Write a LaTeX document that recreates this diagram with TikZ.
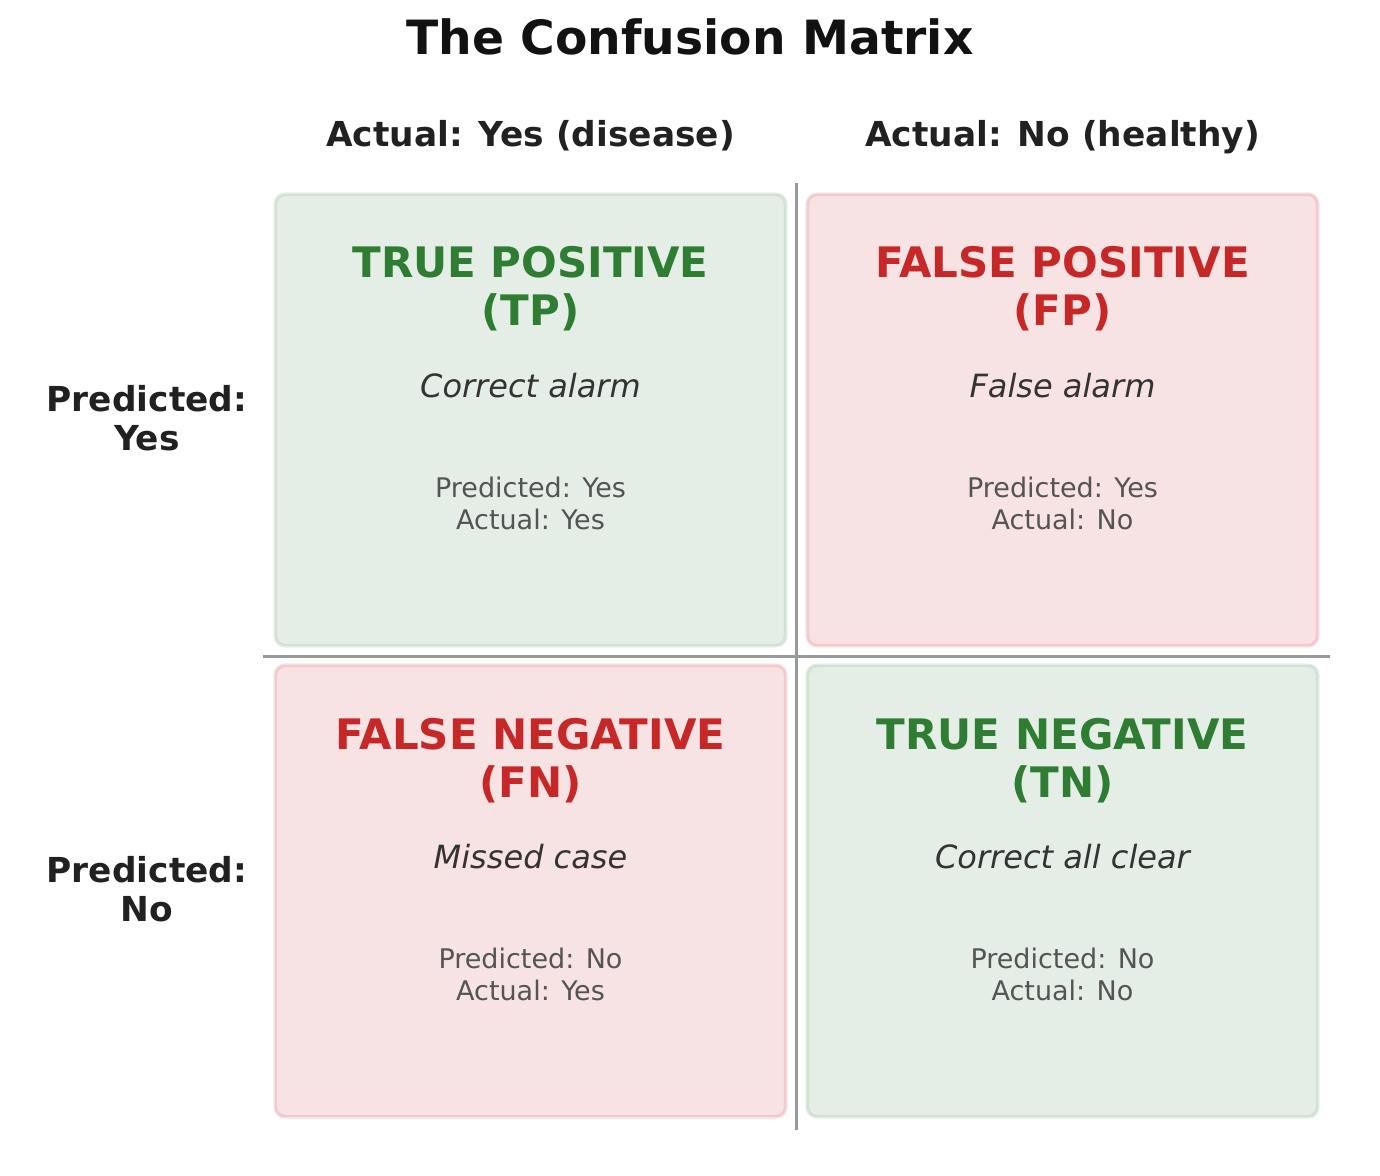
\documentclass[tikz,border=0pt]{standalone}
\usepackage{fontspec}
\setmainfont{DejaVu Sans}
\usepackage{tikz}
\definecolor{goodfill}{HTML}{E5EEE6}
\definecolor{goodline}{HTML}{D0E2D2}
\definecolor{goodtext}{HTML}{2E7D32}
\definecolor{badfill}{HTML}{F8E3E4}
\definecolor{badline}{HTML}{F2CACD}
\definecolor{badtext}{HTML}{C62828}
\definecolor{gridgray}{HTML}{999999}

\begin{document}
\begin{tikzpicture}[x=0.5pt,y=-0.5pt,
  cell/.style n args={2}{draw=#2,fill=#1,line width=1.2pt,rounded corners=4.5pt,
    minimum width=254.5pt,minimum height=225pt,rectangle,
    preaction={draw=#2!55,line width=2.6pt,rounded corners=5pt}},
  headtxt/.style={anchor=base,align=center,font=\bfseries\fontsize{17.2}{19.5}\selectfont,text=black!87},
  celltitle/.style={anchor=base,align=center,font=\bfseries\fontsize{21}{24}\selectfont,text=#1},
  celldesc/.style={anchor=base,font=\itshape\fontsize{16}{19}\selectfont,text=black!80},
  cellinfo/.style={anchor=base,align=center,font=\fontsize{13.5}{16}\selectfont,text=black!67},
  gridline/.style={draw=gridgray,line width=1.5pt}]
\useasboundingbox (0,0) rectangle (1380,1176);
\node[anchor=base,font=\bfseries\fontsize{23.6}{26}\selectfont,text=black!93] (title) at (690,55) {The Confusion Matrix};
\node[headtxt] (col-yes) at (530.5,147) {Actual: Yes (disease)};
\node[headtxt] (col-no) at (1062.5,147) {Actual: No (healthy)};
\node[headtxt] (row-yes) at (147,450) {Predicted:\\Yes};
\node[headtxt] (row-no) at (147,921) {Predicted:\\No};
% the four cells
\foreach \nm/\cx/\cy/\fl/\ln/\tx/\head/\abbr/\desc/\pred/\act in %
{tp/530.5/420/goodfill/goodline/goodtext/TRUE POSITIVE/TP/Correct alarm/Yes/Yes,
 fp/1062.5/420/badfill/badline/badtext/FALSE POSITIVE/FP/False alarm/Yes/No,
 fn/530.5/891/badfill/badline/badtext/FALSE NEGATIVE/FN/Missed case/No/Yes,
 tn/1062.5/891/goodfill/goodline/goodtext/TRUE NEGATIVE/TN/Correct all clear/No/No} {
   \node[cell={\fl}{\ln}] (cell-\nm) at (\cx,\cy) {};
   \node[celltitle=\tx] (title-\nm) at (\cx,\cy-94) {\head\\(\abbr)};
   \node[celldesc] (desc-\nm) at (\cx,\cy-23) {\desc};
   \node[cellinfo] (info-\nm) at (\cx,\cy+109) {Predicted: \pred\\Actual: \act};
}
% dividing lines
\coordinate (vtop) at (796,183);
\coordinate (vbot) at (796,1130);
\coordinate (hleft) at (263,656);
\coordinate (hright) at (1330,656);
\draw[gridline] (vtop) -- (vbot);
\draw[gridline] (hleft) -- (hright);
\end{tikzpicture}
\end{document}
